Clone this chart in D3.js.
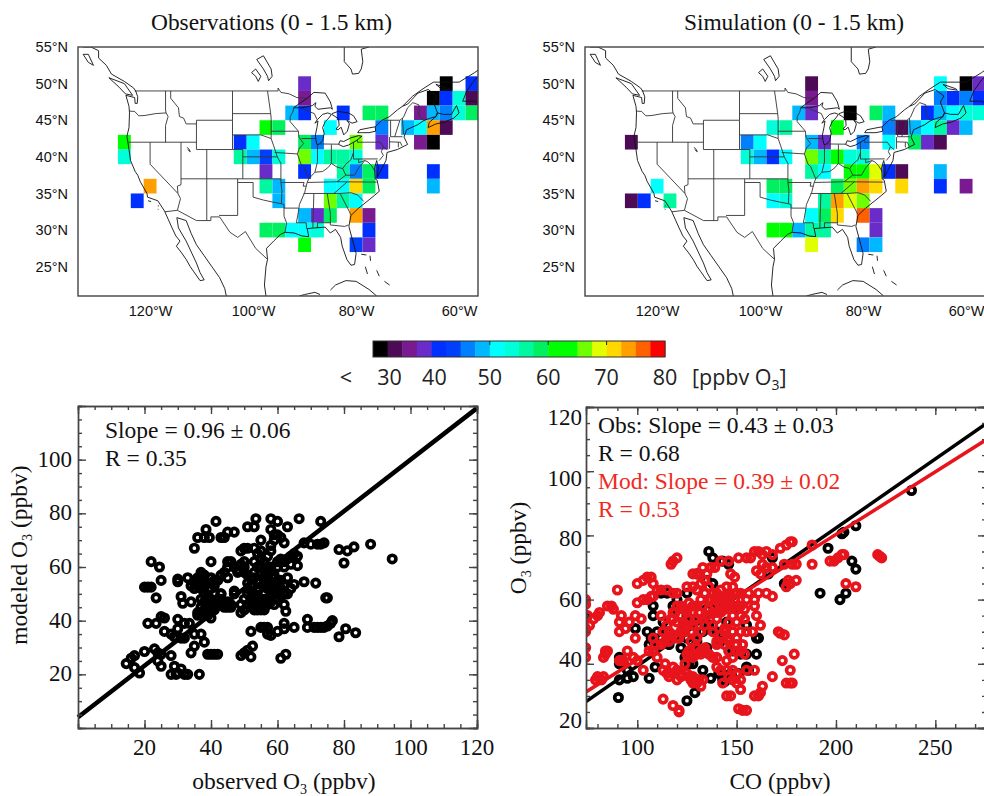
<!DOCTYPE html>
<html>
<head>
<meta charset="utf-8">
<script src="https://cdn.jsdelivr.net/npm/d3@7"></script>
<style>
	html, body { margin: 0; padding: 0; background: #fff; overflow: hidden; }
	svg { display: block; }
	.map-label { font-family: "Liberation Sans", sans-serif; font-size: 14.5px; fill: #111; }
	.serif { font-family: "Liberation Serif", serif; fill: #111; }
	.bar-label { font-family: "Open Sans", sans-serif; font-size: 21.5px; fill: #222; }
	.axis path, .axis line { stroke: #444; }
</style>
</head>
<body>
<div id="chart"></div>
<script>
// ozone cells on the 2 x 2.5 grid: [lon, lat, ppbv]
const obsCells = [
	[-90,50,38],[-62.5,50,28],[-57.5,50,41],
	[-90,48,35],[-65,48,28],[-62.5,48,41],[-60,48,54],[-57.5,48,31],
	[-92.5,46,49],[-90,46,41],[-82.5,46,41],[-77.5,46,59],[-75,46,59],[-67.5,46,35],[-65,46,49],[-62.5,46,46],[-60,46,54],[-57.5,46,59],
	[-97.5,44,61],[-95,44,59],[-85,44,51],[-75,44,46],[-70,44,49],[-67.5,44,51],[-65,44,74],[-62.5,44,31],
	[-125,42,61],[-102.5,42,41],[-100,42,51],[-90,42,59],[-87.5,42,46],[-80,42,66],[-75,42,38],[-67.5,42,35],[-65,42,28],
	[-125,40,54],[-102.5,40,56],[-100,40,49],[-97.5,40,44],[-95,40,54],[-90,40,66],[-87.5,40,51],[-85,40,56],[-82.5,40,56],[-80,40,53],
	[-97.5,38,38],[-90,38,41],[-82.5,38,56],[-80,38,46],[-77.5,38,59],[-75,38,41],[-65,38,41],
	[-120,36,74],[-97.5,36,56],[-95,36,49],[-85,36,51],[-82.5,36,51],[-80,36,71],[-77.5,36,59],[-65,36,49],
	[-122.5,34,41],[-95,34,49],[-85,34,66],[-82.5,34,56],[-80,34,51],
	[-90,32,49],[-87.5,32,38],[-85,32,59],[-80,32,74],[-77.5,32,35],
	[-97.5,30,59],[-95,30,59],[-92.5,30,51],[-90,30,52],[-87.5,30,54],[-77.5,30,41],
	[-90,28,61],[-80,28,44],[-77.5,28,38]
];
const simCells = [
	[-90,50,31],[-65,50,51],[-60,50,28],[-57.5,50,38],
	[-90,48,35],[-65,48,46],[-62.5,48,41],[-60,48,46],[-57.5,48,41],
	[-92.5,46,49],[-90,46,38],[-82.5,46,28],[-77.5,46,59],[-75,46,49],[-67.5,46,41],[-65,46,49],[-62.5,46,51],[-60,46,54],[-57.5,46,54],
	[-97.5,44,54],[-95,44,56],[-85,44,61],[-75,44,46],[-72.5,44,33],[-70,44,49],[-67.5,44,51],[-65,44,56],[-62.5,44,38],[-60,44,49],
	[-125,42,31],[-102.5,42,46],[-100,42,51],[-90,42,49],[-87.5,42,38],[-80,42,46],[-75,42,51],[-70,42,59],[-67.5,42,38],[-65,42,31],
	[-102.5,40,54],[-100,40,49],[-97.5,40,41],[-95,40,51],[-90,40,66],[-87.5,40,56],[-85,40,61],[-82.5,40,54],[-80,40,54],
	[-90,38,56],[-87.5,38,51],[-82.5,38,61],[-80,38,61],[-77.5,38,69],[-75,38,41],[-72.5,38,31],[-65,38,49],
	[-120,36,51],[-97.5,36,59],[-95,36,59],[-85,36,59],[-82.5,36,66],[-80,36,74],[-77.5,36,71],[-72.5,36,71],[-65,36,41],[-60,36,35],
	[-125,34,31],[-122.5,34,41],[-117.5,34,56],[-97.5,34,51],[-95,34,54],[-87.5,34,56],[-85,34,74],[-82.5,34,69],[-80,34,66],
	[-90,32,51],[-87.5,32,59],[-85,32,71],[-80,32,76],[-77.5,32,38],
	[-97.5,30,61],[-95,30,61],[-92.5,30,49],[-90,30,56],[-87.5,30,56],[-77.5,30,38],
	[-90,28,69],[-80,28,46],[-77.5,28,49]
];

const levels = [30,33.3,36.7,40,42.5,45,47.5,50,52.5,55,57.5,60,62.5,65,67.5,70,72.5,75,77.5];
const levelColors = ["#000000","#4d0a55","#7a1a90","#6a2cc8","#0030ff","#0040f8","#0080ff","#00b8ff","#00ffff","#00ffd8","#00f8a0","#00f060","#00ff00","#00ff00","#70ff00","#e0ff00","#ffd800","#ffa000","#ff6000","#ff0000"];
const barLabels = [30,40,50,60,70,80];
const barTicks = [50,60,70];

const lonTicks = [-120,-100,-80,-60];
const latTicks = [55,50,45,40,35,30,25];

// outlines, lon/lat
const coasts = [
	[[-133,55],[-131.5,55],[-130,54.5],[-130,53.5],[-128.5,52.5],[-127.5,51.3],[-125,50.3],[-123.2,49.4],[-122.8,49],[-122.4,48.2],[-122.5,47.3],[-122.9,47.3],[-123,48.1],[-124.7,48.4],[-124.1,46.9],[-124,46],[-124.1,44],[-124.5,42.8],[-124.2,41.5],[-123.8,39.5],[-122.9,38],[-122.4,37.5],[-121.9,36.6],[-120.6,35],[-120.5,34.5],[-118.5,34],[-117.2,32.6],[-116.5,31.5],[-115.8,30.4],[-115,29.2],[-114.2,28.5],[-114.9,27.8],[-114,27],[-113,26],[-112.2,25],[-111.5,24.3],[-110.3,23.1],[-109.5,23.2],[-110.3,24.2],[-111,25.5],[-112,27],[-113,28.5],[-114.5,30.3],[-114.8,31.7],[-113,31.3],[-112,29.5],[-111,28],[-109.5,26.5],[-108,25],[-106.5,23.5],[-105.5,22],[-105.2,21]],
	[[-97.5,21],[-97.8,22.5],[-97.5,25],[-97.2,26],[-97.4,27.5],[-96,28.5],[-94.7,29.4],[-93.8,29.7],[-92,29.6],[-90.5,29.2],[-89.2,29.1],[-89.5,30.2],[-88,30.3],[-86,30.4],[-85,29.6],[-84,30.1],[-83,29],[-82.7,27.8],[-81.8,26],[-81,25.2],[-80.3,25.3],[-80,26.8],[-80.6,28.4],[-81.4,30.5],[-81,32],[-79.5,33],[-77.9,33.9],[-76.5,34.7],[-75.5,35.3],[-75.9,36.8],[-76.3,37],[-76.4,38.5],[-76,39.5],[-75.7,38.5],[-75.9,37.2],[-75.3,38],[-74.2,39.5],[-74,40.6],[-72,41],[-70,41.7],[-70.7,42.7],[-70.2,43.7],[-68,44.4],[-67,44.9],[-66,45.2],[-64.5,45.5],[-64.2,46],[-65,47.5],[-64.3,48.3],[-66,49.2],[-68,48.7],[-70,47.2],[-71,46.9],[-69,48.3],[-67,49.3],[-65,50.2],[-60,50.2],[-57,51.5],[-56,52]],
	[[-91,21],[-90,21.2],[-88,21.5],[-87,21.2]],
	[[-85,21.8],[-84,22.5],[-82,23.1],[-80,23],[-77.5,21.9],[-76,21]],
	[[-79,26.7],[-78,26.6]],[[-77.3,26.5],[-77.2,25.8]],[[-78.2,25],[-77.8,24]],[[-76,24.5],[-75.5,23.7]],[[-74.5,23],[-73.5,22.5]],
	[[-128,50.8],[-125,50],[-123.4,48.4],[-124.8,48.6],[-126,49.5],[-128,50.8]],
	[[-133,54],[-132,54],[-131,52.5],[-132,52.9],[-133,54]],
	[[-66,44],[-64.5,44.5],[-63,44.7],[-61,45.3],[-60,46],[-60.5,47],[-61.5,45.8],[-63,45.8],[-64.2,46],[-64.5,45.5],[-65.8,44.7],[-66,44]],
	[[-59.3,47.6],[-57,47.6],[-55,46.9],[-55.5,50],[-55.5,51.5],[-57,50.5],[-58.5,49],[-59.3,47.6]],
	[[-64.5,49.9],[-62,49.3],[-61.7,49.1],[-63.5,49.3],[-64.5,49.9]],
	[[-82.3,55],[-82.3,53],[-81,52],[-80.7,51.3],[-79.5,51.4],[-79,52],[-78.7,53],[-79,54.7],[-77.5,55]],
	[[-97,50.4],[-96.3,51],[-96.5,52],[-98,53.8],[-99.3,53.3],[-98,52],[-97.2,51],[-97,50.4]],
	[[-99,50.3],[-98.5,51],[-99.5,52],[-100.3,51.5],[-99.5,51],[-99,50.3]],
	[[-120.4,34],[-119.8,33.9]],[[-118.5,33.3],[-118.3,33.3]],[[-118.5,32.9],[-118.4,32.8]],
	[[-112.8,41.3],[-112.4,41],[-112.2,40.7],[-112.7,41]],
	[[-92.1,46.7],[-90.5,46.7],[-88.5,47],[-87.8,47.4],[-88,46.9],[-87.4,46.5],[-85,46.7],[-84.6,46.5],[-85,47.5],[-86,48.7],[-88.2,48.8],[-89.5,48],[-91,47.3],[-92.1,46.7]],
	[[-87.6,41.7],[-87.2,41.7],[-86.5,42.2],[-86.2,43.2],[-86.5,44],[-86,44.8],[-85.3,45.3],[-84.8,45.8],[-85.5,46],[-86.5,45.8],[-87.5,45.1],[-88,44.6],[-87.4,44.9],[-87.6,44],[-87.9,43],[-87.8,42.3],[-87.6,41.7]],
	[[-84.7,45.8],[-83.4,45.2],[-83.3,44.3],[-83.9,43.8],[-83.5,43.7],[-82.9,44.05],[-82.4,43],[-81.7,43.5],[-81.3,44.5],[-81.8,45],[-80.8,44.6],[-79.8,44.8],[-80.5,45.6],[-81.5,46],[-83.5,46.2],[-84.7,45.9]],
	[[-83.4,41.7],[-82.5,41.4],[-81.5,41.6],[-80,42.2],[-78.9,42.8],[-79.5,42.9],[-81,42.6],[-82.4,42.1],[-83.1,42.2],[-83.4,41.7]],
	[[-79.7,43.3],[-79,43.3],[-77.5,43.3],[-76.2,43.5],[-76.3,44.1],[-77.5,43.95],[-79.3,43.7],[-79.7,43.3]],
	[[-76.3,44.1],[-75,45],[-73.5,45.5],[-72,46.4],[-71,46.9]]
];
const borders = [
	[[-123,49],[-95.15,49],[-95.15,49.4],[-94.6,48.8],[-93,48.6],[-91.5,48.1],[-89.6,48]],
	[[-67,45],[-67.8,45.7],[-67.8,47.1],[-69,47.4],[-70,46.7],[-70.8,45.4],[-71.5,45],[-74.7,45]],
	[[-117.1,32.5],[-114.7,32.7],[-111,31.3],[-108.2,31.3],[-108.2,31.8],[-106.5,31.8],[-104.5,29.7],[-103,29],[-101.5,29.8],[-99.5,27.5],[-97.2,26]],
	[[-124,46.25],[-123,46.2],[-122.2,45.6],[-121,45.65],[-119,45.9],[-116.9,46]],
	[[-117,49],[-117,46.4],[-116.9,46],[-116.5,45.5],[-117,44.3],[-117,42]],
	[[-124.2,42],[-111,42]],
	[[-120,42],[-120,39],[-114.6,35],[-114.1,34.3],[-114.7,32.7]],
	[[-114,42],[-114,36.2],[-114.7,36],[-114.6,35]],
	[[-116,49],[-116,48],[-114.5,46.7],[-114.3,45.5],[-113.5,45.3],[-113,44.5],[-111,44.5]],
	[[-111,45],[-104,45]],
	[[-111,45],[-111,41],[-104,41],[-104,45]],
	[[-109,41],[-109,31.3]],
	[[-114,37],[-94.6,37]],
	[[-103,37],[-103,32],[-106.6,32]],
	[[-103,36.5],[-100,36.5],[-100,34.5],[-98,34.1],[-96,33.8],[-94.5,33.6],[-94,33.5],[-94,31.9],[-93.5,31],[-93.8,29.7]],
	[[-104,41],[-102,41],[-102,37]],
	[[-104,43],[-98.5,43],[-96.5,42.5]],
	[[-104,45.9],[-96.6,45.9]],
	[[-104,49],[-104,45]],
	[[-102,40],[-95.3,40]],
	[[-97.2,49],[-96.6,46],[-96.5,45.3],[-96.5,42.5],[-96,41.5],[-95.3,40],[-94.6,39.1],[-94.6,36.5],[-94.4,35.4],[-94.5,33.6]],
	[[-96.5,43.5],[-91.2,43.5]],
	[[-95.8,40.6],[-91.4,40.4]],
	[[-94.6,36.5],[-90.1,36.5],[-90.3,36],[-89.7,36]],
	[[-94,33],[-91.2,33]],
	[[-92.1,46.7],[-92.3,46.1],[-92.8,45.5],[-92.8,44.8],[-91.2,43.5],[-91.1,42.7],[-90.2,41.8],[-91,41.2],[-91.4,40.4],[-90.7,39],[-90.2,38.7],[-89.2,37],[-89.5,36.5],[-90,35.1],[-91,33.5],[-91.2,32.5],[-91.6,31],[-89.7,31],[-89.6,30.2]],
	[[-90.6,42.5],[-87.8,42.5]],
	[[-90.4,46.55],[-88.1,45.9],[-87.6,45.1]],
	[[-87.5,41.7],[-87.5,39.3],[-88,37.9]],
	[[-84.8,41.7],[-84.8,39.1]],
	[[-87.2,41.76],[-83.4,41.73]],
	[[-89.2,37],[-88,37.9],[-86.5,38],[-85.5,38.5],[-84.8,39.1],[-83.7,38.6],[-82.6,38.4],[-82,39],[-81,39.6],[-80.5,40.6]],
	[[-80.5,42],[-80.5,39.7],[-75.8,39.72]],
	[[-79.76,42.3],[-79.76,42],[-75.3,42],[-74.7,41.4],[-75.1,40.7],[-74.7,40.2],[-75.5,39.5]],
	[[-74.7,41.4],[-74,41]],
	[[-73.5,42.7],[-73.5,41.1]],
	[[-73.5,42.05],[-71.4,42],[-71.1,41.5]],
	[[-73.3,42.75],[-71,42.75]],
	[[-73.3,45],[-73.3,42.75]],
	[[-72.5,42.75],[-71.5,45]],
	[[-71,45.3],[-70.8,43.1]],
	[[-71.8,42],[-71.8,41.3]],
	[[-89.5,36.5],[-83.7,36.6],[-76,36.55]],
	[[-90.2,35],[-83.1,35]],
	[[-81.7,36.6],[-84.3,35]],
	[[-83.1,35],[-81,35.1],[-79.7,34.8],[-78.5,33.9]],
	[[-83.1,35],[-81,32.1]],
	[[-85.6,35],[-85,32.3],[-85,30.7],[-82.2,30.5],[-81.5,30.7]],
	[[-87.5,31],[-85,31]],
	[[-87.5,31],[-87.5,30.3]],
	[[-88.2,35],[-88.4,30.3]],
	[[-83.7,36.6],[-82,37.5],[-82.6,38.4]],
	[[-82,37.5],[-80.3,37.5],[-79.5,38.5],[-78.3,39.5],[-77.7,39.3],[-77,38.8],[-76.3,38]],
	[[-79.5,39.7],[-79.5,39.2],[-78.3,39.5]]
];

// O3 scatter, observed vs modeled
const obsO3 = [94.5,88,83,81,78.5,80,83.5,80.5,78.5,76.5,75,74.5,73,74,73,72,70,68,66.5,66,66,68,71.5,65,69,69,71,72,73,74,75,76,65,62,62,62.5,62,63,60,58,53.5,51,53,41.5,38.5,35,36,38,39.5,44,45,47,43,22,24.5,25,20,21,22,23.5,31,31.5,34,21,23.5,25,26,26,28,29,30,30,32,33.5,31,32,35,37,38,35,34,20,23,24,25,24,25,28,29,28,29.5,31,30,32,33,36.5,14.5,16,17,17,18.5,39,40,41,42,49,50,51,52,52.5,52,56,57,57,58,60,61,62.5,55,
	30,30,33,35,36,36,37,38,38,40,41,40,42,43,44,45,45,46,47,45,48,50,50,51,52,53,53,55,56,57,58,60,61,62,63,64,65,49,50,51,53,54,55,55,57,58,59,60,61,62,58,59,36,37,37,38,39,39,40,40,41,41,42,43,44,44,45,46,46,47,49,49,50,50,51,51,52,52,53,53,54,54,54,55,55,56,56,56,57,57,57,57,58,58,58,59,59,60,60,60,61,61,61,62,62,63,63,64,
	34,35,36,37,37,38,39,40,41,36,37,38,38,39,39,40,41,42,43,44,45,43,47,48,49,50,51,52,53,54,55,56,57,58,59,60,52,53,54,55,56,57,58,59,54,55,56,57,58,60,62,64];
const modO3 = [63,68.5,67.5,66,66.5,61.5,35.5,37,34,40,48.5,48.5,77,69,68.5,68.5,68.5,69,78,64,60.5,54.5,54,53.5,40.5,37.5,37.5,37.5,37.5,37.5,38,39,37.5,39,37,43.5,46,75,77,78,78,75,75,77,74,67,71,71,71,71,73,73,71,62,60,55,52.5,52.5,52.5,48.5,49,46.5,47,39,39,41.5,41,36,35,34,37,40.5,39,39,33.5,33.5,35,35,32,30.5,28,28.5,29.5,28,27.5,25,23,27,23,20,20,22,20.5,20,20,20,24,26,27,22.5,20.5,27.5,27.5,27.5,27.5,27,28,29,26.5,30.5,36,37.5,35,37.5,34.5,36,26,27.5,37.5,
	54.5,55.5,56,54,53,56,58,55,57,56,55,62,55,57,58,60,62,62,60,56,58,58,62,57,56,58,62,60,62,58,60,62,63,62,63,64,65,66,67,67,67,65,70,66,64,68,70,72,71,69,74,72,42,43,48,50,42,46,41,48,46,50,48,50,47,45,45,45,46,51,43,46,44,48,46,50,47,51,44,47,45,44,51,44,48,44,46,50,46,48,52,55,47,49,52,46,50,48,54,51,49,52,55,50,53,50,56,52,
	53,52,55,52,57,53,54,52,53,43,45,44,47,44,49,45,44,47,48,46,47,50,50,59,61,60,54,53,56,55,58,55,56,54,57,55,48,50,52,46,48,53,51,56,60,63,59,60,66,60,60,61];

const slopeLeft = 0.96;
const interceptLeft = 4;

// O3 vs CO, observed and modeled
const coObs = [238,210,204,203,196,208,210,192,205,202,136,138,143,146,168,166,174,108,99,105,107,108,106,112,91,91,93,95,98,95,91,106,109,90.5,125,129,133,137,141,143,144,147,151,155,156,160,160,161,124,126,128,132,133,136,145,120,118,115,112,108,120,125,130,138,135,130,128,125,130,122,115,74,110,113,116,118,122,125,128,135,140,142,148,152,155,135,140,145,150,155];
const o3Obs = [94,83,81,80.5,76,72,69.5,62,62,60,75,73,72,71,73,68,65,55,51,50,48,47,46,48,42,40,40,38,36,35.5,35,35.5,39,29.5,28.5,31,38,35.5,37,35,34.5,37,37,39,38,43,48,48,42,40,40,50,50,52,53,57,58,62,62,58,60,62,58,65,66,68,53,55,47,50,50,55,50,53,46,48,45,48,45,45,50,47,44,43,43,57,58,60,57,52];
const coMod = [74,74,74,75,74,74,74,78,80,81,76,90,85,87,88,92,91,91,96,99,102,94,99,84,84,83,85,92,93,91,95,98,100,103,80,82,79,83,113,118,121,121,100,103,105,107,108,110,112,115,118,120,125,128,130,103,105,107,108,100,117,118,120,128,130,133,135,137,132,134,136,139,142,146,147,149,151,155,157,159,161,163,165,168,160,163,165,168,162,172,175,177,178,174,178,180,176,175,177,180,188,188,197,199,201,203,204,205,210,221,222,223,156,161,165,168,159,171,172,174,173,179,177,168,175,177,178,163,159,159,161,162,150,152,148,145,147,151,153,155,154,152,150,158,162,160,159,155,
	110,108,106,109,112,108,114,113,115,118,116,120,122,124,126,128,130,132,134,136,138,140,142,145,148,150,152,112,118,120,122,125,128,124,127,130,132,134,135,138,140,142,145,148,150,152,154,144,146,148,150,152,155,140,138,144,146,148,125,128,130,132,134,136,138,113,115,118,120,122,125,127,128,130,131,133,140,142,145,148,150,152,145,150,155,153,
	113,115,117,119,121,123,125,127,129,131,133,116,118,120,122,124,126,128,130,136,138,140,142,144,146,148,150,152,154,137,139,141,143,145,147,149,126,128,130,132,134,140,142,144,146,148,114,116,118,120,122,124,126,128,130,132,140,143,146];
const o3Mod = [60,58.5,50,55,45,42,51,54,55,56,52,63,58,58,57,55,53,50,53,55,54,51,48,44,43,42,44,41,41,41,44,42,41,38,36,35,35,36,29,27,25,25.5,65,66,67,67,65,63,63,63,62,62,64,64,63,60,60,61,61,59,71,72,73,68,68,70,68,70,65,66,64,70,72,72,68,67,73,73,73,75,75,74,75,74,69,71,70,70,68,76,77,78,78,71,71,71,66,64,65,66,77,71,72,72,73,74,74,65,64,74,73.5,73,62,62,62,61,60,50,49.5,49,41,43,38,36,34,34,34,33,38,30,30,31,34,32,35,30,30,26,25.5,25.5,43,44,46,50,52,55,58,60,
	42,44,44,46,46,48,47,50,52,54,50,48,50,52,54,56,58,60,62,60,62,62,63,64,64,62,62,55,56,58,58,56,58,50,47,48,50,52,55,56,56,58,58,58,58,58,57,50,48,50,48,50,50,47,50,46,44,42,43,43,43,44,45,43,42,38,37,37,38,36,37,35,36,34,35,35,39,38,38,38,37,35,41,44,38,46,
	50,52,54,56,48,53,52,50,54,56,58,47,49,53,55,57,59,52,54,57,52,54,56,57,53,55,53,55,54,60,60,59,60,61,61,60,44,42,45,43,44,46,49,51,47,50,40,36,39,35,37,40,36,34,35,33,42,34,36];
const slopeObs = 0.43;
const interceptObs = -3.7;
const slopeMod = 0.39;
const interceptMod = 2.3;

const svg = d3.select("#chart").append("svg")
	.attr("width", 984)
	.attr("height", 796);

const colorScale = d3.scaleThreshold().domain(levels).range(levelColors);

function drawMap(left, title, titleCenter, cells, id) {
	const width = 400, height = 249, top = 47;
	const x = d3.scaleLinear().domain([-134, -56.33]).range([left, left + width]);
	const y = d3.scaleLinear().domain([21, 55]).range([top + height, top]);

	svg.append("clipPath").attr("id", id)
		.append("rect").attr("x", left).attr("y", top).attr("width", width).attr("height", height);

	let g = svg.append("g").attr("clip-path", "url(#" + id + ")");

	// grid boxes are 2.5 lon by 2 lat
	g.selectAll("rect.cell").data(cells).enter().append("rect")
		.attr("class", "cell")
		.attr("x", d => x(d[0] - 1.25))
		.attr("y", d => y(d[1] + 1))
		.attr("width", d => x(d[0] + 1.25) - x(d[0] - 1.25))
		.attr("height", d => y(d[1] - 1) - y(d[1] + 1))
		.attr("fill", d => colorScale(d[2]));

	let line = d3.line().x(d => x(d[0])).y(d => y(d[1]));

	g.selectAll("path.border").data(borders).enter().append("path")
		.attr("class", "border")
		.attr("d", line)
		.attr("fill", "none")
		.attr("stroke", "#333")
		.attr("stroke-width", 0.9);

	g.selectAll("path.coast").data(coasts).enter().append("path")
		.attr("class", "coast")
		.attr("d", line)
		.attr("fill", "none")
		.attr("stroke", "#111")
		.attr("stroke-width", 0.9);

	svg.append("rect")
		.attr("x", left).attr("y", top).attr("width", width).attr("height", height)
		.attr("fill", "none").attr("stroke", "#444").attr("stroke-width", 1.4);

	// labels only, the map frame has no tick marks
	let xAxis = svg.append("g")
		.attr("transform", "translate(0," + (top + height) + ")")
		.call(d3.axisBottom(x).tickValues(lonTicks).tickSize(0).tickPadding(10).tickFormat(d => (-d) + "°W"));
	xAxis.select(".domain").remove();
	xAxis.selectAll("text").attr("class", "map-label").attr("font-family", null).attr("font-size", null);

	let yAxis = svg.append("g")
		.attr("transform", "translate(" + left + ",0)")
		.call(d3.axisLeft(y).tickValues(latTicks).tickSize(0).tickPadding(10).tickFormat(d => d + "°N"));
	yAxis.select(".domain").remove();
	yAxis.selectAll("text").attr("class", "map-label").attr("font-family", null).attr("font-size", null);

	svg.append("text")
		.attr("class", "serif")
		.attr("x", titleCenter)
		.attr("y", 30)
		.attr("text-anchor", "middle")
		.attr("font-size", 23.4)
		.text(title);
}

drawMap(78, "Observations (0 - 1.5 km)", 271.5, obsCells, "clip-obs");
drawMap(585, "Simulation (0 - 1.5 km)", 794, simCells, "clip-sim");

// colour bar
const barX = d3.scaleBand().domain(d3.range(levelColors.length)).range([373, 665]);
const barTop = 341, barHeight = 16;

function barPos(v) {
	if (v === 80) return barX.range()[1];
	return barX(levels.indexOf(v) + 1);
}

svg.selectAll("rect.level").data(levelColors).enter().append("rect")
	.attr("class", "level")
	.attr("x", (d, i) => barX(i))
	.attr("y", barTop)
	.attr("width", barX.bandwidth() + 0.5)
	.attr("height", barHeight)
	.attr("fill", d => d);

svg.append("rect")
	.attr("x", 373).attr("y", barTop).attr("width", 292).attr("height", barHeight)
	.attr("fill", "none").attr("stroke", "#333").attr("stroke-width", 1);

svg.selectAll("line.bar-tick").data(barTicks).enter().append("line")
	.attr("class", "bar-tick")
	.attr("x1", barPos).attr("x2", barPos)
	.attr("y1", barTop).attr("y2", barTop + 4)
	.attr("stroke", "#222");

svg.selectAll("text.bar-label").data(barLabels).enter().append("text")
	.attr("class", "bar-label")
	.attr("x", d => barPos(d) + (d === 30 ? 2 : d === 40 ? 3 : 0))
	.attr("y", 385)
	.attr("text-anchor", "middle")
	.text(d => d);

svg.append("text").attr("class", "bar-label").attr("x", 346).attr("y", 385).attr("text-anchor", "middle").text("<");

let barUnit = svg.append("text").attr("class", "bar-label").attr("x", 692).attr("y", 385);
barUnit.append("tspan").text("[ppbv O");
barUnit.append("tspan").attr("font-size", 14).attr("dy", 5).text("3");
barUnit.append("tspan").attr("dy", -5).text("]");

// axes on all four sides, ticks point inward, labels on left and bottom only
function drawFrame(x, y, xMajor, xMinor, yMajor, yMinor, yLabelScale, labelGap) {
	const [x0, x1] = x.range();
	const [y1, y0] = y.range();
	const tickLabel = 23;

	function addAxis(axis, major, minor, tx, ty) {
		let g = svg.append("g").attr("class", "axis").attr("transform", "translate(" + tx + "," + ty + ")");
		g.call(axis.tickValues(minor).tickSize(4).tickFormat(""));
		let g2 = svg.append("g").attr("class", "axis").attr("transform", "translate(" + tx + "," + ty + ")");
		g2.call(axis.tickValues(major).tickSize(8).tickFormat(""));
		g.selectAll("line,path").attr("stroke-width", 1.4);
		g2.selectAll("line,path").attr("stroke-width", 1.4);
	}

	addAxis(d3.axisTop(x), xMajor, xMinor, 0, y1);
	addAxis(d3.axisBottom(x), xMajor, xMinor, 0, y0);
	addAxis(d3.axisRight(y), yMajor, yMinor, x0, 0);
	addAxis(d3.axisLeft(y), yMajor, yMinor, x1, 0);

	svg.selectAll(null).data(xMajor).enter().append("text")
		.attr("class", "serif")
		.attr("x", x)
		.attr("y", y1 + 27)
		.attr("text-anchor", "middle")
		.attr("font-size", tickLabel)
		.text(d => d);

	svg.selectAll(null).data(yMajor).enter().append("text")
		.attr("class", "serif")
		.attr("x", x0 - labelGap)
		.attr("y", d => yLabelScale(d) + 7)
		.attr("text-anchor", "end")
		.attr("font-size", tickLabel)
		.text(d => d);
}

function drawRings(g, xs, ys, x, y, color) {
	g.selectAll(null).data(xs).enter().append("circle")
		.attr("cx", d => x(d))
		.attr("cy", (d, i) => y(ys[i]))
		.attr("r", 3.7)
		.attr("fill", "none")
		.attr("stroke", color)
		.attr("stroke-width", 3.7);
}

function drawFit(g, x, slope, intercept, y, color, width) {
	let fit = d3.line().x(d => x(d)).y(d => y(slope * d + intercept));
	g.append("path")
		.attr("d", fit(x.domain()))
		.attr("fill", "none")
		.attr("stroke", color)
		.attr("stroke-width", width);
}

function addLabel(x, y, size, color, parts, rotate) {
	let t = svg.append("text")
		.attr("class", "serif")
		.attr("font-size", size)
		.style("fill", color);
	if (rotate) {
		t.attr("transform", "translate(" + x + "," + y + ") rotate(-90)").attr("text-anchor", "middle");
	} else {
		t.attr("x", x).attr("y", y);
	}
	parts.forEach(p => {
		if (p.sub) {
			t.append("tspan").attr("font-size", size * 0.6).attr("dy", 5).text(p.sub);
			t.append("tspan").attr("dy", -5).text(p.after);
		} else {
			t.append("tspan").text(p.text);
		}
	});
	return t;
}

// left scatter
const xLeft = d3.scaleLinear().domain([0, 120]).range([78, 477]);
const yLeft = d3.scaleLinear().domain([0, 120]).range([728, 406]);

let gLeft = svg.append("g");
drawRings(gLeft, obsO3, modO3, xLeft, yLeft, "#000");
drawFit(gLeft, xLeft, slopeLeft, interceptLeft, yLeft, "#000", 4.5);
drawFrame(xLeft, yLeft, [20,40,60,80,100,120], d3.range(0, 121, 5), [20,40,60,80,100], d3.range(0, 121, 5), yLeft, 6);

addLabel(105, 438, 23.5, "#111", [{text: "Slope = 0.96 ± 0.06"}]);
addLabel(105, 466, 23.5, "#111", [{text: "R = 0.35"}]);
addLabel(284, 789, 23.5, "#111", [{text: "observed O"}, {sub: "3", after: " (ppbv)"}]).attr("text-anchor", "middle");
addLabel(27, 555, 23.5, "#111", [{text: "modeled O"}, {sub: "3", after: " (ppbv)"}], true);

// right scatter
const xRight = d3.scaleLinear().domain([74.2, 275.5]).range([586, 986]);
const yRight = d3.scaleLinear().domain([20, 120]).range([728, 407]);
const yRightLabel = d3.scaleLinear().domain([20, 120]).range([721, 418]);

svg.append("clipPath").attr("id", "clip-right")
	.append("rect").attr("x", 586).attr("y", 407).attr("width", 400).attr("height", 321);

let gRight = svg.append("g").attr("clip-path", "url(#clip-right)");
drawRings(gRight, coObs, o3Obs, xRight, yRight, "#000");
drawFit(gRight, xRight, slopeObs, interceptObs, yRight, "#000", 3.5);
drawRings(gRight, coMod, o3Mod, xRight, yRight, "#e8141c");
drawFit(gRight, xRight, slopeMod, interceptMod, yRight, "#e8141c", 3.5);
drawFrame(xRight, yRight, [100,150,200,250], d3.range(80, 276, 10), [20,40,60,80,100,120], d3.range(20, 121, 5), yRightLabel, 4);

addLabel(598, 433, 23.5, "#111", [{text: "Obs: Slope = 0.43 ± 0.03"}]);
addLabel(598, 461, 23.5, "#111", [{text: "R = 0.68"}]);
addLabel(598, 489, 23.5, "#f02a20", [{text: "Mod: Slope = 0.39 ± 0.02"}]);
addLabel(598, 517, 23.5, "#f02a20", [{text: "R = 0.53"}]);
addLabel(780, 789, 23.5, "#111", [{text: "CO (ppbv)"}]).attr("text-anchor", "middle");
addLabel(526, 548, 23.5, "#111", [{text: "O"}, {sub: "3", after: " (ppbv)"}], true);
</script>
</body>
</html>
